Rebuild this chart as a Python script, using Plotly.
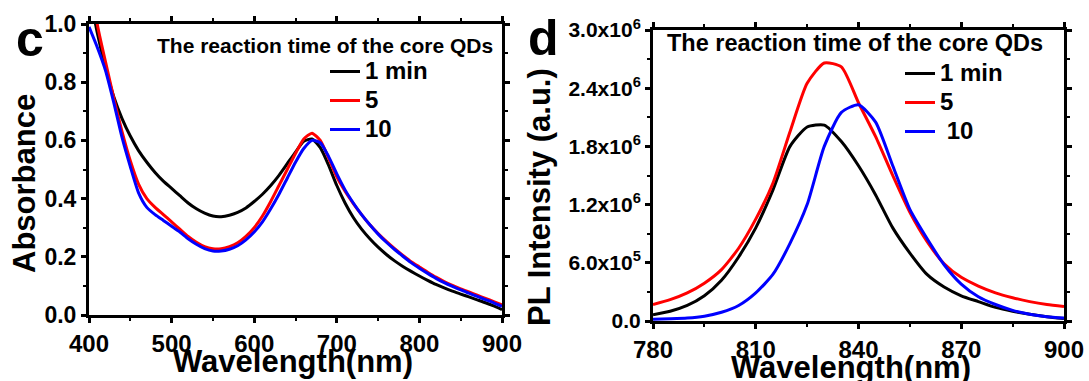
import plotly.graph_objects as go

# ---------------- Panel c: absorption spectra ----------------
abs_wavelength = list(range(400, 901, 10))
abs_1min = [1.12, 0.97, 0.85, 0.75, 0.675, 0.615, 0.565, 0.525, 0.49, 0.46,
            0.435, 0.41, 0.385, 0.365, 0.35, 0.34, 0.338, 0.343, 0.353, 0.368,
            0.39, 0.415, 0.445, 0.48, 0.52, 0.56, 0.597, 0.605, 0.575, 0.515,
            0.445, 0.385, 0.335, 0.295, 0.262, 0.233, 0.208, 0.186, 0.167, 0.15,
            0.134, 0.119, 0.105, 0.093, 0.082, 0.072, 0.062, 0.052, 0.042, 0.031,
            0.018]
abs_5min = [1.25, 1.0, 0.87, 0.745, 0.63, 0.53, 0.45, 0.4, 0.37, 0.345,
            0.32, 0.295, 0.27, 0.25, 0.235, 0.228, 0.228, 0.235, 0.248, 0.27,
            0.3, 0.34, 0.39, 0.445, 0.5, 0.555, 0.605, 0.625, 0.6, 0.54,
            0.475, 0.425, 0.383, 0.345, 0.31, 0.28, 0.253, 0.228, 0.205, 0.183,
            0.165, 0.147, 0.13, 0.115, 0.102, 0.09, 0.079, 0.068, 0.057, 0.046,
            0.035]
abs_10min = [0.99, 0.92, 0.84, 0.73, 0.61, 0.51, 0.42, 0.37, 0.345, 0.325,
             0.305, 0.285, 0.262, 0.243, 0.228, 0.22, 0.22, 0.226, 0.238, 0.258,
             0.285, 0.32, 0.365, 0.415, 0.47, 0.525, 0.572, 0.6, 0.592, 0.545,
             0.485, 0.43, 0.385, 0.345, 0.31, 0.278, 0.25, 0.225, 0.202, 0.18,
             0.161, 0.143, 0.126, 0.111, 0.098, 0.086, 0.075, 0.064, 0.053, 0.042,
             0.03]

# ---------------- Panel d: PL spectra (x10^6 a.u.) ----------------
pl_wavelength = list(range(780, 901, 5))
pl_1min = [0.065, 0.1, 0.16, 0.26, 0.42, 0.66, 0.96, 1.35, 1.8, 2.0,
           2.02, 1.85, 1.6, 1.3, 0.96, 0.7, 0.48, 0.35, 0.26, 0.2,
           0.14, 0.1, 0.07, 0.045, 0.025]
pl_5min = [0.17, 0.22, 0.29, 0.39, 0.53, 0.75, 1.05, 1.42, 1.95, 2.45,
           2.66, 2.62, 2.25, 1.9, 1.5, 1.12, 0.82, 0.59, 0.45, 0.36,
           0.29, 0.24, 0.2, 0.17, 0.15]
pl_10min = [0.017, 0.022, 0.03, 0.05, 0.09, 0.16, 0.29, 0.48, 0.8, 1.2,
            1.8, 2.15, 2.23, 2.05, 1.6, 1.15, 0.85, 0.58, 0.38, 0.25,
            0.17, 0.11, 0.07, 0.045, 0.03]

series_names = ["1 min", "5", "10"]
pl_names = ["1 min", "5", " 10"]
series_colors = ["#000000", "#ff0000", "#0000ff"]

abs_xticks = [400, 500, 600, 700, 800, 900]
abs_xminor = [450, 550, 650, 750, 850]
abs_yticks = [0.0, 0.2, 0.4, 0.6, 0.8, 1.0]
abs_yminor = [0.1, 0.3, 0.5, 0.7, 0.9]
pl_xticks = [780, 810, 840, 870, 900]
pl_xminor = [795, 825, 855, 885]
pl_yticks = [0, 0.6e6, 1.2e6, 1.8e6, 2.4e6, 3.0e6]
pl_yminor = [0.3e6, 0.9e6, 1.5e6, 2.1e6, 2.7e6]
pl_ytext = ["0.0", "6.0x10<sup>5</sup>", "1.2x10<sup>6</sup>",
            "1.8x10<sup>6</sup>", "2.4x10<sup>6</sup>", "3.0x10<sup>6</sup>"]

FONT = "Liberation Sans, Arial, sans-serif"
W, H = 1089, 381
# page margins (px); layout positions below are given in pixels and converted
ML, MR, MT, MB = 80, 20, 20, 55
PW, PH = W - ML - MR, H - MT - MB


def px_x(x):
    return (x - ML) / PW


def px_y(y):
    return (H - MB - y) / PH


def bold(items):
    return ["<b>%s</b>" % t for t in items]


def legend_label(name):
    return '<span style="font-size:24px"><b>%s</b></span>' % name


fig = go.Figure()

for name, color, ys in zip(series_names, series_colors, [abs_1min, abs_5min, abs_10min]):
    fig.add_trace(go.Scatter(
        x=abs_wavelength, y=ys, mode="lines", name=legend_label(name),
        line=dict(color=color, width=3, shape="spline", smoothing=0.6),
        xaxis="x", yaxis="y", legend="legend"))

for name, color, ys in zip(pl_names, series_colors, [pl_1min, pl_5min, pl_10min]):
    fig.add_trace(go.Scatter(
        x=pl_wavelength, y=[v * 1e6 for v in ys], mode="lines", name=legend_label(name),
        line=dict(color=color, width=3, shape="spline", smoothing=0.6),
        xaxis="x2", yaxis="y2", legend="legend2"))


def axis_style(size, minor_vals, **kw):
    d = dict(
        showline=True, linecolor="#000000", linewidth=3, mirror="ticks",
        ticks="outside", ticklen=5, tickwidth=3, tickcolor="#000000",
        showgrid=False, zeroline=False, layer="above traces",
        tickfont=dict(family=FONT, size=size, color="#000000"),
        minor=dict(tickmode="array", tickvals=minor_vals, ticks="outside",
                   ticklen=3, tickwidth=2, tickcolor="#000000", showgrid=False),
    )
    d.update(kw)
    return d


fig.update_layout(
    width=W, height=H,
    margin=dict(l=ML, r=MR, t=MT, b=MB, autoexpand=False),
    paper_bgcolor="white", plot_bgcolor="white",
    showlegend=True,
    xaxis=axis_style(24, abs_xminor, domain=[px_x(89), px_x(502)], range=[400, 900],
                     tickmode="array", tickvals=abs_xticks,
                     ticktext=bold(abs_xticks), anchor="y"),
    yaxis=axis_style(23, abs_yminor, domain=[px_y(315), px_y(24)], range=[0, 1.0],
                     tickmode="array", tickvals=abs_yticks,
                     ticktext=bold(["%.1f" % v for v in abs_yticks]), anchor="x"),
    xaxis2=axis_style(24, pl_xminor, domain=[px_x(653), px_x(1064)], range=[780, 900],
                      tickmode="array", tickvals=pl_xticks,
                      ticktext=bold(pl_xticks), anchor="y2"),
    yaxis2=axis_style(21, pl_yminor, domain=[px_y(321), px_y(30)], range=[0, 3.0e6],
                      tickmode="array", tickvals=pl_yticks, ticktext=bold(pl_ytext),
                      anchor="x2"),
    legend=dict(x=px_x(325), y=px_y(52), xanchor="left", yanchor="top",
                bgcolor="rgba(0,0,0,0)", borderwidth=0,
                font=dict(family=FONT, size=20, color="black")),
    legend2=dict(x=px_x(900), y=px_y(54), xanchor="left", yanchor="top",
                 bgcolor="rgba(0,0,0,0)", borderwidth=0,
                 font=dict(family=FONT, size=20, color="black")),
)


def label(text, x, y, size, angle=0):
    fig.add_annotation(text="<b>" + text + "</b>", x=px_x(x), y=px_y(y), xref="paper", yref="paper",
                       showarrow=False, textangle=angle, xanchor="center", yanchor="middle",
                       font=dict(family=FONT, size=size, color="black"))


# axis titles
label("Absorbance", 24, 184, 31, -90)
label("Wavelength(nm)", 293, 361, 31)
label("PL Intensity (a.u.)", 540, 197, 31, -90)
label("Wavelength(nm)", 851, 367, 31)

# legend headings
label("The reaction time of the core QDs", 325, 45, 21)
label("The reaction time of the core QDs", 855, 43, 23.5)

# panel letters
label("c", 30, 39, 50)
label("d", 543, 38, 50)

fig.write_html("out.html")
